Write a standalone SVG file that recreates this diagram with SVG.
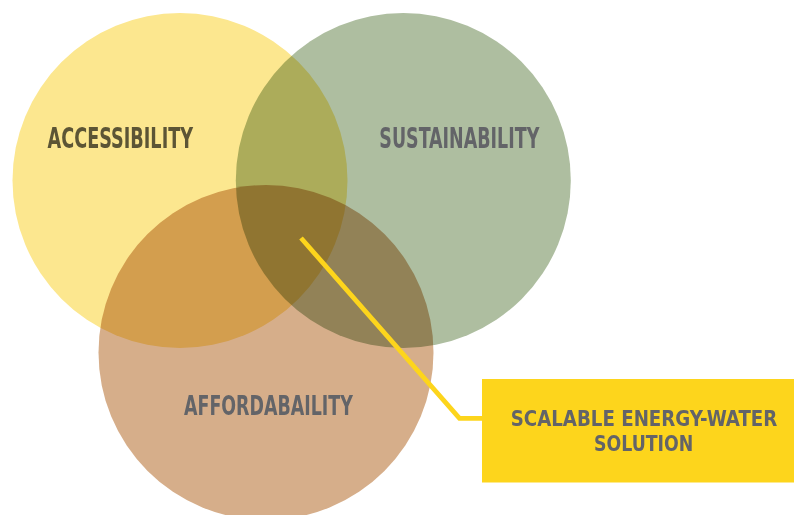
<svg xmlns="http://www.w3.org/2000/svg" width="794" height="515" viewBox="0 0 794 515">
<style>
.c{mix-blend-mode:multiply}
.lbl{font-family:"DejaVu Sans Condensed","Liberation Sans Narrow","Liberation Sans",sans-serif;font-weight:bold;fill:#636468}
.mid{text-anchor:middle}
</style>
<rect x="0" y="0" width="794" height="515" fill="#ffffff"/>
<g id="accessibility">
<circle class="c" cx="180" cy="180.5" r="167.5" fill="#FCE78F"/>
</g>
<g id="sustainability">
<circle class="c" cx="403.3" cy="180.5" r="167.5" fill="#AEBEA0"/>
</g>
<g id="affordability">
<circle class="c" cx="266" cy="352.5" r="167.5" fill="#D6AE8A"/>
</g>
<g id="labels">
<text class="lbl mid" x="120.3" y="147.7" font-size="27.5" textLength="145.5" lengthAdjust="spacingAndGlyphs" style="fill:#5C5535">ACCESSIBILITY</text>
<text class="lbl mid" x="459.3" y="147.7" font-size="27.5" textLength="160" lengthAdjust="spacingAndGlyphs">SUSTAINABILITY</text>
<text class="lbl mid" x="268.4" y="415" font-size="26.5" textLength="168.7" lengthAdjust="spacingAndGlyphs">AFFORDABAILITY</text>
</g>
<g id="connectors">
<polyline points="301,238 459.5,418.3 484,418.3" fill="none" stroke="#FDD51C" stroke-width="4.8" stroke-linejoin="miter" stroke-linecap="butt"/>
</g>
<g id="solution">
<rect x="482" y="379" width="312" height="103.5" fill="#FDD51C"/>
<text class="lbl mid" x="644" y="425.5" font-size="21" textLength="266.6" lengthAdjust="spacingAndGlyphs">SCALABLE ENERGY-WATER</text>
<text class="lbl mid" x="643.7" y="451" font-size="21" textLength="99.3" lengthAdjust="spacingAndGlyphs">SOLUTION</text>
</g>
</svg>
